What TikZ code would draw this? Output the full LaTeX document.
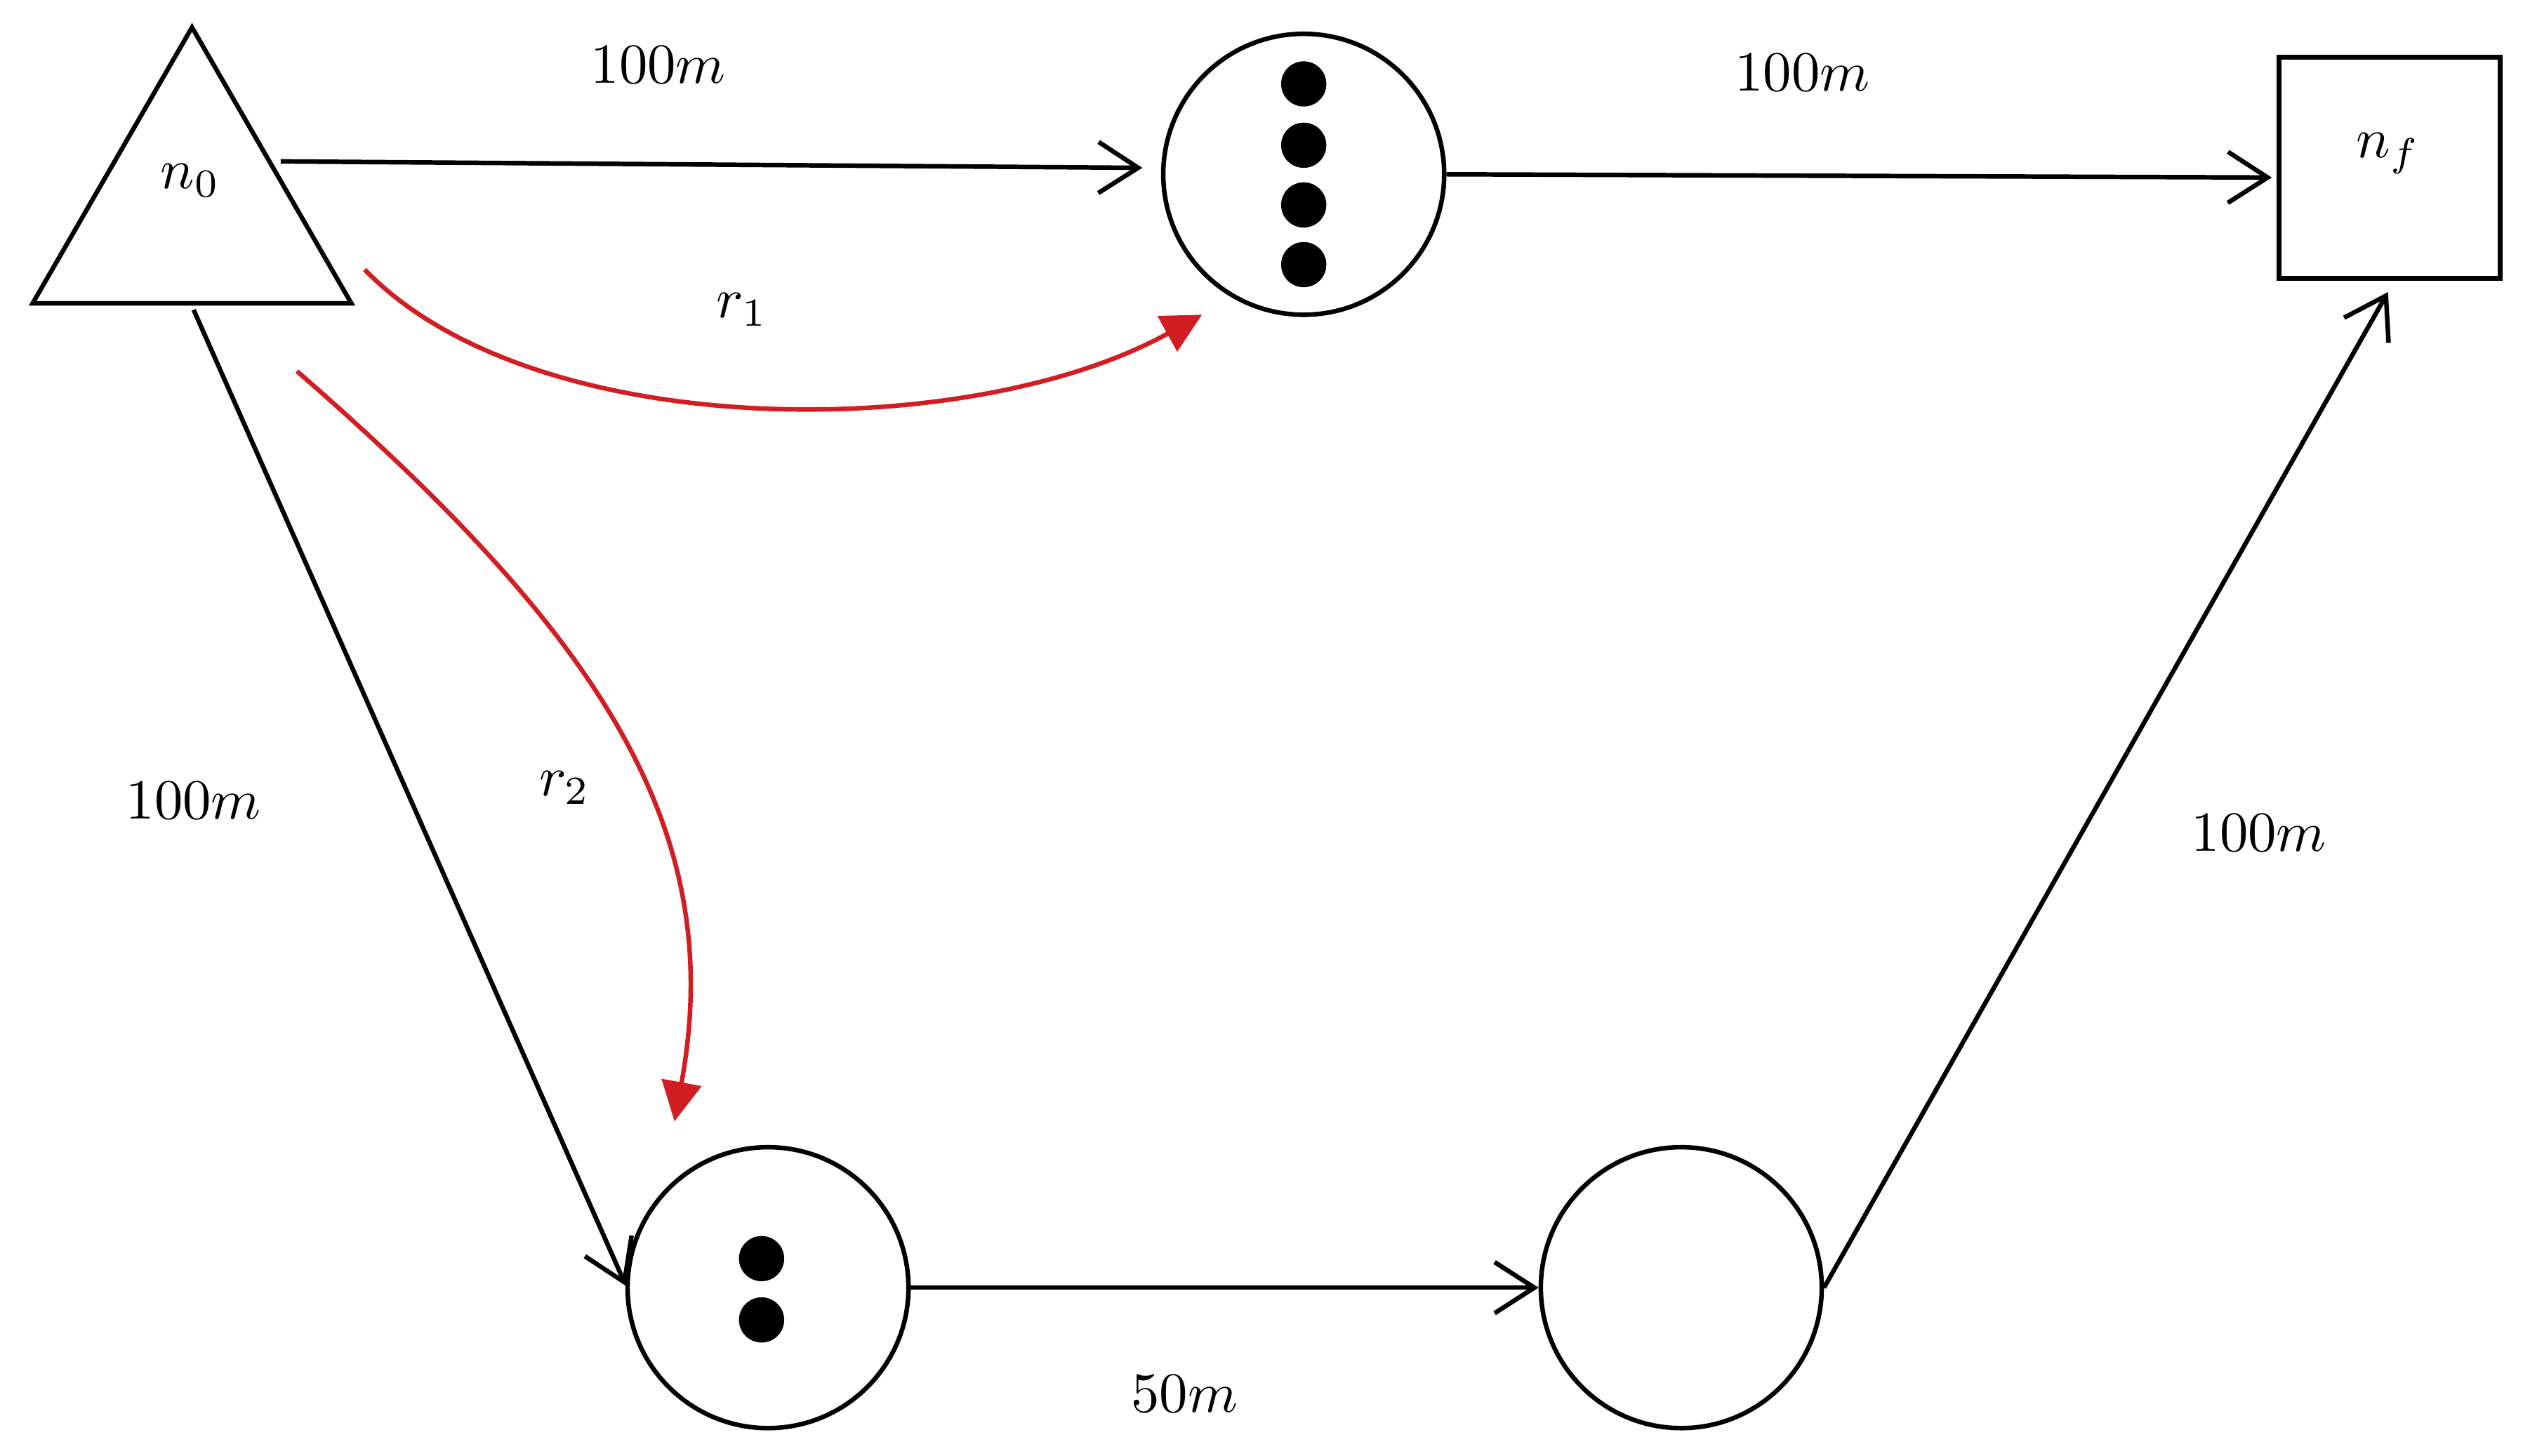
\documentclass[tikz,border=0pt]{standalone}
\usetikzlibrary{arrows.meta,shapes.geometric}
\begin{document}
\begin{tikzpicture}[x=0.01cm,y=-0.01cm,
  blk/.style={line width=0.8pt,-{Straight Barb[length=7pt,width=9pt]}},
  red/.style={line width=0.8pt,draw={rgb,255:red,210;green,30;blue,35},-{Triangle[length=7pt,width=7pt]}},
  circ/.style={circle,draw,line width=0.8pt,minimum size=1.74cm,inner sep=0},
  dot/.style={circle,fill=black,minimum size=0.28cm,inner sep=0},
  lab/.style={font=\fontsize{10}{12}\selectfont}]
\useasboundingbox (0,0) rectangle (1568,902);
\node[regular polygon,regular polygon sides=3,draw,line width=0.8pt,minimum size=2.28cm,inner sep=0] (tri) at (119,131) {};
\node[lab] (n0) at (118,112) {$n_0$};
\node[circ] (A) at (808,108) {};
\foreach \y/\i in {52/1,90/2,127/3,164/4} \node[dot] (a\i) at (808,\y) {};
\node[draw,line width=0.8pt,minimum size=1.37cm,inner sep=0] (nf) at (1481,104) {};
\node[lab] at (1480,95) {$n_f$};
\node[circ] (B) at (476,798) {};
\node[dot] (b1) at (472,780) {};
\node[dot] (b2) at (472,818) {};
\node[circ] (C) at (1042,798) {};
\coordinate (t1) at (174,100);
\coordinate (t2) at (120,192);
\coordinate (t3) at (226,167);
\coordinate (t4) at (184,230);
\draw[blk] (t1) -- (708,104) coordinate (e1);
\draw[blk] (A.east) -- (1408,110);
\draw[blk] (t2) -- (388,797);
\draw[blk] (B.east) -- (C.west);
\draw[blk] (C.east) -- (1480,181);
\draw[red] (t3) .. controls (330,275) and (600,275) .. (745,195);
\draw[red] (t4) .. controls (380,400) and (450,520) .. (418,695);
\node[lab] at (408,40) {$100m$};
\node[lab] at (1117,45) {$100m$};
\node[lab] at (460,192) {$r_1$};
\node[lab] at (350,488) {$r_2$};
\node[lab] at (120,496) {$100m$};
\node[lab] at (1400,516) {$100m$};
\node[lab] at (734,864) {$50m$};
\end{tikzpicture}
\end{document}
